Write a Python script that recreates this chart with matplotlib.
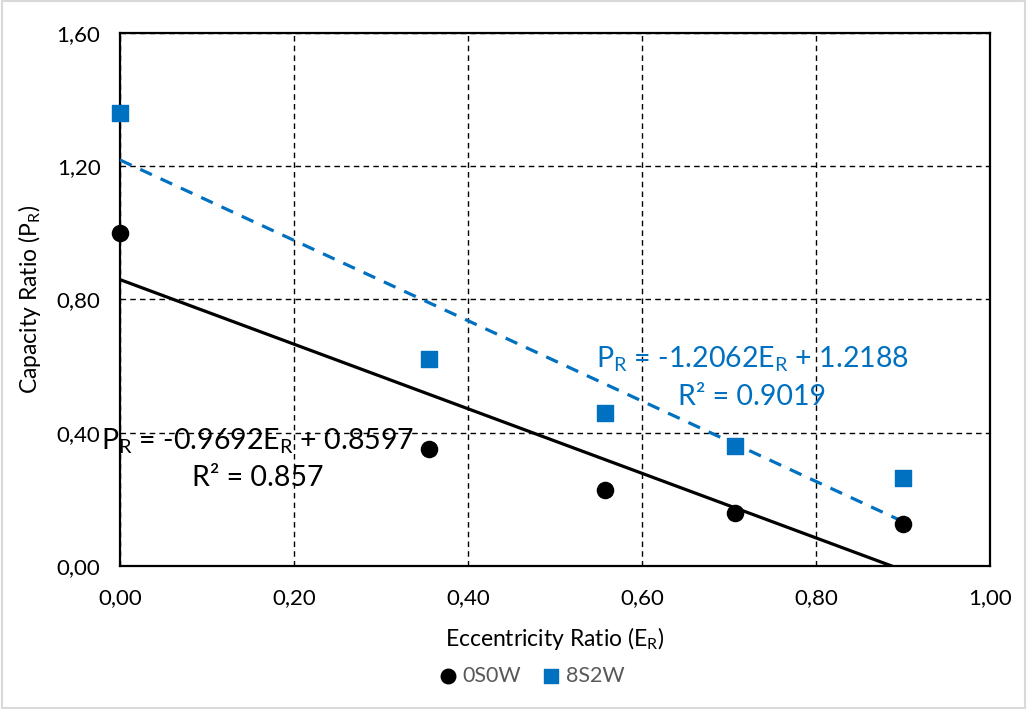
import numpy as np
import matplotlib.pyplot as plt

plt.rcParams['font.family'] = ['Lato', 'DejaVu Sans']
plt.rcParams['mathtext.default'] = 'regular'

# data
ecc = [0.0, 0.355, 0.558, 0.707, 0.90]
p_0s0w = [1.00, 0.35, 0.228, 0.16, 0.126]
p_8s2w = [1.36, 0.62, 0.46, 0.36, 0.264]

# trendline coefficients as printed on the chart
fit_0s0w = (-0.9692, 0.8597, 0.857)
fit_8s2w = (-1.2062, 1.2188, 0.9019)

xticks = [0.0, 0.2, 0.4, 0.6, 0.8, 1.0]
yticks = [0.0, 0.4, 0.8, 1.2, 1.6]

blue = '#0070C0'

fig = plt.figure(figsize=(10.27, 7.09), dpi=100)
ax = fig.add_axes([0.1168, 0.2017, 0.8472, 0.7518])
fig.patches.append(plt.Rectangle((0.002, 0.002), 0.996, 0.996, transform=fig.transFigure,
                                 fill=False, edgecolor='#d9d9d9', linewidth=1.5))

xs = np.array([min(ecc), max(ecc)])
ax.plot(xs, fit_0s0w[0] * xs + fit_0s0w[1], color='black', lw=2.3, zorder=3)
ax.plot(xs, fit_8s2w[0] * xs + fit_8s2w[1], color=blue, lw=2.3, ls=(0, (4, 3)), zorder=3)

ax.scatter(ecc, p_0s0w, s=135, marker='o', color='black', zorder=4, label='0S0W', clip_on=False)
ax.scatter(ecc, p_8s2w, s=125, marker='s', color=blue, zorder=4, label='8S2W', clip_on=False)

ax.set_xlim(0, 1)
ax.set_ylim(0, 1.6)
ax.set_xticks(xticks)
ax.set_yticks(yticks)
ax.set_xticklabels([f'{v:.2f}'.replace('.', ',') for v in xticks])
ax.set_yticklabels([f'{v:.2f}'.replace('.', ',') for v in yticks])
ax.tick_params(length=0, labelsize=16, colors='black')
ax.tick_params(axis='x', pad=16)
ax.tick_params(axis='y', pad=14)
ax.grid(True, color='black', ls=(0, (4, 3)), lw=1.0)
for s in ax.spines.values():
    s.set_linewidth(1.6)
    s.set_color('black')

ax.set_xlabel('Eccentricity Ratio (E$_R$)', fontsize=16.5, labelpad=12)
ax.set_ylabel('Capacity Ratio (P$_R$)', fontsize=16.5, labelpad=10)

ax.text(0.158, 0.375, f'P$_R$ = {fit_0s0w[0]}E$_R$ + {fit_0s0w[1]}', fontsize=20.5,
        ha='center', va='center', color='black', zorder=5)
ax.text(0.158, 0.263, f'R² = {fit_0s0w[2]}', fontsize=20.5,
        ha='center', va='center', color='black', zorder=5)
ax.text(0.727, 0.62, f'P$_R$ = {fit_8s2w[0]}E$_R$ + {fit_8s2w[1]}', fontsize=20.5,
        ha='center', va='center', color=blue, zorder=5)
ax.text(0.727, 0.508, f'R² = {fit_8s2w[2]}', fontsize=20.5,
        ha='center', va='center', color=blue, zorder=5)

leg = fig.legend(loc='center', bbox_to_anchor=(0.518, 0.047), ncol=2, frameon=False,
                 fontsize=15.5, handlelength=0.8, handletextpad=0.3, columnspacing=1.0,
                 markerscale=0.9)
for t in leg.get_texts():
    t.set_color('#595959')

fig.savefig('out.png', dpi=100)
